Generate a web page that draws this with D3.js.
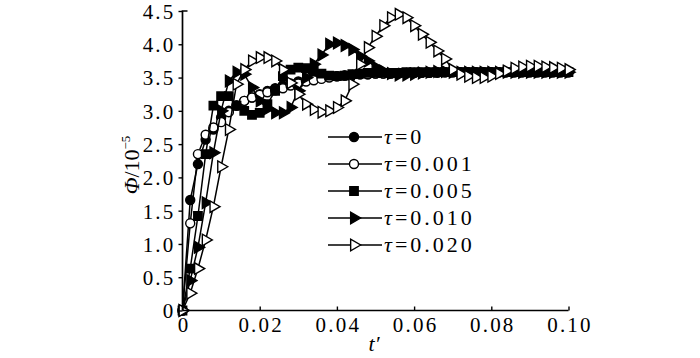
<!DOCTYPE html>
<html><head><meta charset="utf-8">
<script src="https://cdn.jsdelivr.net/npm/d3@7"></script>
<style>body{margin:0;background:#fff}svg{display:block}
text{font-family:"Liberation Serif","Times New Roman",serif;fill:#000}</style>
</head><body><svg id="c" width="700" height="358"></svg>
<script>
// ---- data ----
const tValues = [0,0.002,0.004,0.006,0.008,0.010,0.012,0.014,0.016,0.018,0.020,0.022,0.024,0.026,0.028,0.030,0.032,0.034,0.036,0.038,0.040,0.042,0.044,0.046,0.048,0.050,0.052,0.054,0.056,0.058,0.060,0.062,0.064,0.066,0.068,0.070,0.072,0.074,0.076,0.078,0.080,0.082,0.084,0.086,0.088,0.090,0.092,0.094,0.096,0.098,0.100];
const seriesLabels = ["τ=0","τ=0.001","τ=0.005","τ=0.010","τ=0.020"];
const phiTau0 = [0,1.66,2.2,2.57,2.72,2.9,3.0,3.08,3.15,3.2,3.25,3.3,3.34,3.38,3.41,3.44,3.46,3.48,3.5,3.51,3.52,3.53,3.54,3.55,3.55,3.56,3.56,3.56,3.57,3.57,3.57,3.57,3.57,3.58,3.58,3.58,3.58,3.58,3.58,3.58,3.58,3.58,3.58,3.58,3.58,3.58,3.58,3.58,3.58,3.58,3.58];
const phiTau001 = [0,1.31,2.35,2.64,2.75,2.83,2.98,3.08,3.15,3.2,3.24,3.28,3.31,3.34,3.38,3.41,3.44,3.46,3.48,3.5,3.52,3.53,3.54,3.55,3.55,3.56,3.56,3.56,3.57,3.57,3.57,3.57,3.57,3.57,3.58,3.58,3.58,3.58,3.58,3.58,3.58,3.58,3.58,3.58,3.58,3.58,3.58,3.58,3.58,3.58,3.58];
const phiTau005 = [0,0.63,1.42,2.35,3.08,3.22,3.22,3.08,3.0,2.94,2.97,3.1,3.3,3.52,3.62,3.65,3.64,3.6,3.56,3.53,3.52,3.53,3.55,3.56,3.57,3.57,3.57,3.57,3.57,3.58,3.58,3.58,3.58,3.58,3.58,3.58,3.58,3.58,3.58,3.58,3.58,3.58,3.58,3.58,3.58,3.58,3.58,3.58,3.58,3.58,3.58];
const phiTau010 = [0,0.45,0.95,1.62,2.37,3.0,3.45,3.58,3.55,3.35,3.15,3.03,2.97,2.97,3.05,3.3,3.5,3.7,3.84,4.0,4.02,3.98,3.92,3.82,3.75,3.66,3.6,3.56,3.54,3.54,3.55,3.57,3.58,3.59,3.59,3.58,3.58,3.58,3.58,3.58,3.58,3.58,3.58,3.58,3.58,3.58,3.58,3.58,3.58,3.58,3.58];
const phiTau020 = [0,0.26,0.63,1.06,1.56,2.16,2.72,3.4,3.62,3.75,3.8,3.8,3.75,3.62,3.42,3.25,3.1,3.02,2.98,3.0,3.05,3.15,3.4,3.7,3.95,4.12,4.28,4.4,4.45,4.4,4.28,4.15,4.03,3.9,3.78,3.62,3.55,3.52,3.5,3.5,3.52,3.56,3.6,3.64,3.66,3.67,3.67,3.66,3.65,3.64,3.62];
const xTicks = [0,0.02,0.04,0.06,0.08,0.10];
const xTickLabels = ["0","0.02","0.04","0.06","0.08","0.10"];
const yTicks = [0,0.5,1.0,1.5,2.0,2.5,3.0,3.5,4.0,4.5];
const yTickLabels = ["0","0.5","1.0","1.5","2.0","2.5","3.0","3.5","4.0","4.5"];
const markerKinds = ["circleFilled","circleOpen","squareFilled","triFilled","triOpen"];

const allSeries = [phiTau0, phiTau001, phiTau005, phiTau010, phiTau020];

// ---- layout ----
const FONT = '"Liberation Serif","Times New Roman",serif';
const svg = d3.select("#c");
const x = d3.scaleLinear().domain([0,0.1]).range([182.5,568.5]);
const y = d3.scaleLinear().domain([0,4.5]).range([310.5,11]);

function markerPath(kind){
  if (kind.startsWith("circle")) return d3.symbol(d3.symbolCircle, 64)();
  if (kind.startsWith("square")) return d3.symbol(d3.symbolSquare, 70)();
  return d3.symbol(d3.symbolTriangle, 58)();
}
function drawMarker(g, kind, cx, cy){
  const filled = kind.endsWith("Filled");
  const rot = kind.startsWith("tri") ? " rotate(90)" : "";
  g.append("path").attr("d", markerPath(kind))
    .attr("transform", `translate(${cx},${cy})${rot}`)
    .attr("fill", filled ? "#000" : "#fff")
    .attr("stroke", "#000").attr("stroke-width", 1.4);
}

// curves
const line = d3.line().x((d,i)=>x(tValues[i])).y(d=>y(d));
const plot = svg.append("g");
allSeries.forEach((vals, si) => {
  const g = plot.append("g");
  g.append("path").attr("d", line(vals)).attr("fill","none")
    .attr("stroke","#000").attr("stroke-width",1.5);
  vals.forEach((v,i) => drawMarker(g, markerKinds[si], x(tValues[i]), y(v)));
});

// axes
const xAxis = d3.axisBottom(x).tickValues(xTicks).tickSize(-4)
  .tickFormat((d,i)=>xTickLabels[i]).tickPadding(12);
const gx = svg.append("g").attr("transform", `translate(0,${y(0)})`).call(xAxis);
gx.select(".domain").attr("d", `M${x(0)},0H${x(0.1)}`).attr("stroke","#000").attr("stroke-width",1.7);
gx.selectAll(".tick line").attr("stroke","#000").attr("stroke-width",1.4);
gx.selectAll(".tick text").attr("font-size",21).attr("letter-spacing","2.2px")
  .attr("font-family",FONT).attr("fill","#000")
  .attr("dy","0.45em").attr("dx","1px");

const yAxis = d3.axisLeft(y).tickValues(yTicks).tickSize(4)
  .tickFormat((d,i)=>yTickLabels[i]).tickPadding(3);
const gy = svg.append("g").attr("transform", `translate(${x(0)},0)`).call(yAxis);
gy.select(".domain").attr("d", `M0,${y(0)}V${y(4.5)}H5`).attr("stroke","#000").attr("stroke-width",1.7).attr("fill","none");
gy.selectAll(".tick line").attr("stroke","#000").attr("stroke-width",1.4);
gy.selectAll(".tick text").attr("font-size",21).attr("letter-spacing","2.2px")
  .attr("font-family",FONT).attr("fill","#000")
  .attr("dy","0.35em");

// axis titles
svg.append("text").attr("x",374).attr("y",351).attr("text-anchor","middle")
  .attr("font-size",22).attr("font-style","italic").text("t′");
const yl = svg.append("text").attr("transform","translate(139,165) rotate(-90)")
  .attr("text-anchor","middle").attr("font-size",22);
yl.append("tspan").attr("font-style","italic").text("Φ");
yl.append("tspan").text("/10");
yl.append("tspan").attr("font-size",13).attr("dy",-9).text("−5");

// legend
const lg = svg.append("g");
const rowY = [137,164,191,218,245];
seriesLabels.forEach((lab,i) => {
  const yy = rowY[i];
  lg.append("line").attr("x1",328).attr("x2",382).attr("y1",yy).attr("y2",yy)
    .attr("stroke","#000").attr("stroke-width",1.5);
  drawMarker(lg, markerKinds[i], 354, yy);
  const tx = lg.append("text").attr("x",384).attr("y",yy+7).attr("font-size",22).attr("letter-spacing","3px");
  tx.append("tspan").attr("font-style","italic").text(lab.slice(0,1));
  tx.append("tspan").text(lab.slice(1));
});
</script></body></html>
